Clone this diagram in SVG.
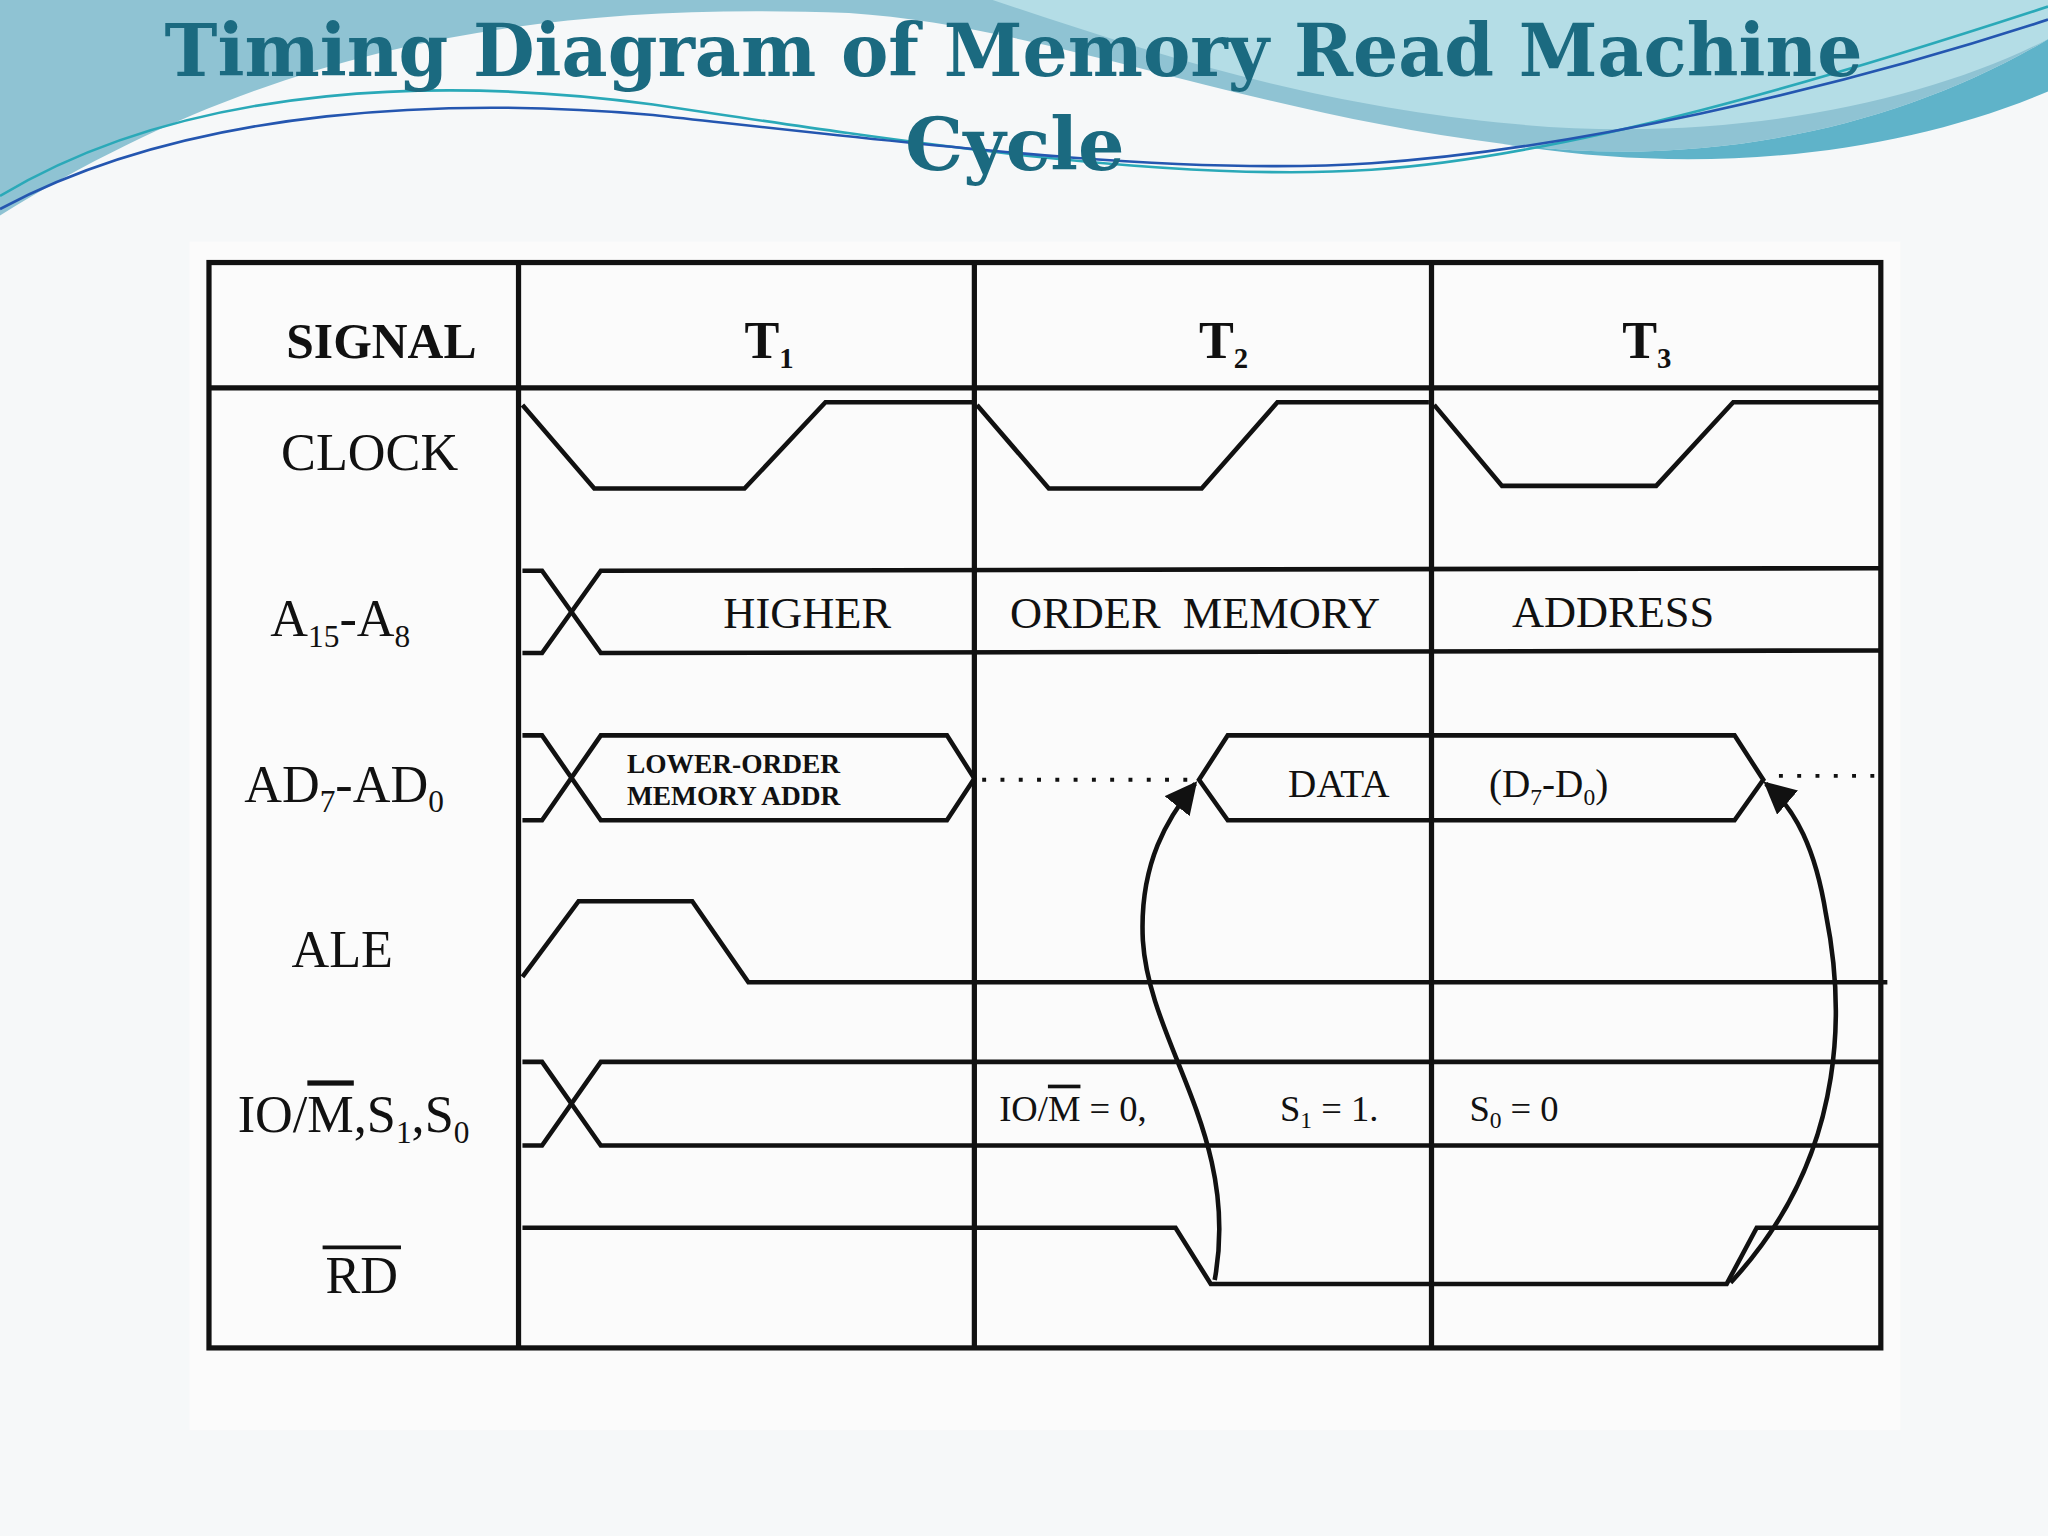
<svg xmlns="http://www.w3.org/2000/svg" width="2048" height="1536" viewBox="0 0 2048 1536">
<defs>
<style>
.ln{fill:none;stroke:#111;stroke-width:3.5}
.gr{fill:none;stroke:#111;stroke-width:4}
.dot{fill:none;stroke:#111;stroke-width:3;stroke-dasharray:3 11}
.lb{font-family:"Liberation Serif",serif;font-weight:bold;fill:#111}
.sm{font-family:"Liberation Serif",serif;fill:#111}
.tt{font-family:"DejaVu Serif","Liberation Serif",serif;font-weight:bold;fill:#1b6a80}
</style>
<marker id="ah" viewBox="0 0 10 10" refX="9" refY="5" markerWidth="7" markerHeight="7" orient="auto"><path d="M0,0 L10,5 L0,10 z" fill="#111"/></marker>
</defs>
<rect width="2048" height="1536" fill="#f6f8f9"/>
<g transform="scale(1.306122)">
<g id="bg">
<path d="M0,0 H1568 V30 C1450,100 1300,130 1150,110 C950,85 800,20 650,10 C400,0 200,40 0,165 Z" fill="#8fc3d3"/>
<path d="M760,0 H1568 V30 C1470,80 1320,110 1160,95 C1000,80 880,40 760,0 Z" fill="#b4dde6"/>
<path d="M1150,110 C1300,130 1450,100 1568,30 V70 C1450,120 1300,135 1150,110 Z" fill="#5fb3c9"/>
<path d="M0,150 C150,60 350,60 500,80 C700,110 900,140 1050,130 C1200,120 1400,60 1568,5" fill="none" stroke="#2aa9b8" stroke-width="2"/>
<path d="M0,160 C150,80 350,75 500,88 C700,110 900,135 1050,125 C1200,115 1400,70 1568,15" fill="none" stroke="#2456b0" stroke-width="2"/>
<rect x="145" y="185" width="1310" height="910" fill="#fbfbfb"/>
</g>
<g id="title">
<text class="tt" x="776" y="58" font-size="56" text-anchor="middle" textLength="1300" lengthAdjust="spacingAndGlyphs">Timing Diagram of Memory Read Machine</text>
<text class="tt" x="777" y="130" font-size="56" text-anchor="middle">Cycle</text>
</g>
<g id="grid">
<rect x="160" y="201" width="1280" height="831" class="gr"/>
<line x1="160" y1="297" x2="1440" y2="297" class="gr"/>
<line x1="397" y1="201" x2="397" y2="1032" class="gr"/>
<line x1="746" y1="201" x2="746" y2="1032" class="gr"/>
<line x1="1096" y1="201" x2="1096" y2="1032" class="gr"/>
</g>
<g id="labels">
<text class="lb" x="292" y="274" font-size="38" text-anchor="middle">SIGNAL</text>
<text class="lb" x="570" y="274" font-size="40">T<tspan font-size="22" dy="8">1</tspan></text>
<text class="lb" x="918" y="274" font-size="40">T<tspan font-size="22" dy="8">2</tspan></text>
<text class="lb" x="1242" y="274" font-size="40">T<tspan font-size="22" dy="8">3</tspan></text>
<text class="sm" x="283" y="360" font-size="40" text-anchor="middle">CLOCK</text>
<text class="sm" x="207" y="487" font-size="40">A<tspan font-size="24" dy="8">15</tspan><tspan dy="-8">-A</tspan><tspan font-size="24" dy="8">8</tspan></text>
<text class="sm" x="187" y="614" font-size="40">AD<tspan font-size="24" dy="8">7</tspan><tspan dy="-8">-AD</tspan><tspan font-size="24" dy="8">0</tspan></text>
<text class="sm" x="262" y="740" font-size="40" text-anchor="middle">ALE</text>
<text class="sm" x="182" y="867" font-size="40">IO/<tspan text-decoration="overline">M</tspan>,S<tspan font-size="24" dy="8">1</tspan><tspan dy="-8">,S</tspan><tspan font-size="24" dy="8">0</tspan></text>
<line x1="247" y1="955" x2="307" y2="955" stroke="#111" stroke-width="3"/>
<text class="sm" x="277" y="990" font-size="40" text-anchor="middle">RD</text>
</g>
<g id="connectors">
<polyline class="ln" points="400,310 455,374 570,374 632,308 746,308"/>
<polyline class="ln" points="748,310 803,374 920,374 978,308 1094,308"/>
<polyline class="ln" points="1098,310 1150,372 1268,372 1327,308 1440,308"/>
<polyline class="ln" points="400,437 415,437 460,500 1440,498"/>
<polyline class="ln" points="400,500 415,500 460,437 1440,435"/>
<polyline class="ln" points="400,563 415,563 460,628 725,628 746,596 725,563 460,563 415,628 400,628"/>
<line class="dot" x1="752" y1="597" x2="915" y2="597"/>
<polygon class="ln" points="918,597 940,563 1328,563 1350,597 1328,628 940,628"/>
<line class="dot" x1="1362" y1="594" x2="1440" y2="594"/>
<polyline class="ln" points="400,748 443,690 530,690 573,752 1445,752"/>
<polyline class="ln" points="400,813 415,813 460,877 1440,877"/>
<polyline class="ln" points="400,877 415,877 460,813 1440,813"/>
<polyline class="ln" points="400,940 900,940 927,983 1322,983 1345,940 1440,940"/>
<path class="ln" d="M930,980 C950,870 880,800 875,720 C872,660 895,625 915,600" marker-end="url(#ah)"/>
<path class="ln" d="M1325,982 C1420,880 1410,760 1398,700 C1390,650 1375,620 1352,600" marker-end="url(#ah)"/>
</g>
<g id="buslabels">
<text class="sm" x="618" y="481" font-size="34" text-anchor="middle">HIGHER</text>
<text class="sm" x="915" y="481" font-size="34" text-anchor="middle" xml:space="preserve">ORDER  MEMORY</text>
<text class="sm" x="1235" y="480" font-size="34" text-anchor="middle">ADDRESS</text>
<text class="lb" x="480" y="592" font-size="21">LOWER-ORDER</text>
<text class="lb" x="480" y="616" font-size="21">MEMORY ADDR</text>
<text class="sm" x="1025" y="610" font-size="30" text-anchor="middle">DATA</text>
<text class="sm" x="1140" y="610" font-size="30">(D<tspan font-size="18" dy="6">7</tspan><tspan dy="-6">-D</tspan><tspan font-size="18" dy="6">0</tspan><tspan dy="-6">)</tspan></text>
<text class="sm" x="765" y="858" font-size="28">IO/<tspan text-decoration="overline">M</tspan> = 0,</text>
<text class="sm" x="980" y="858" font-size="28">S<tspan font-size="18" dy="6">1</tspan><tspan dy="-6"> = 1.</tspan></text>
<text class="sm" x="1125" y="858" font-size="28">S<tspan font-size="18" dy="6">0</tspan><tspan dy="-6"> = 0</tspan></text>
</g>
</g>
</svg>
